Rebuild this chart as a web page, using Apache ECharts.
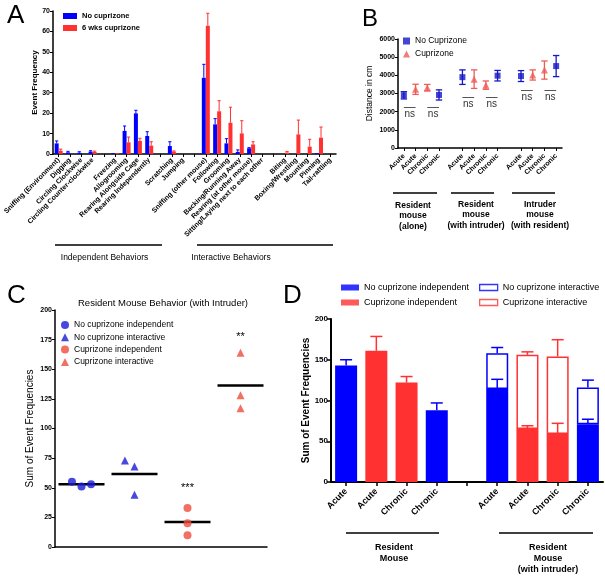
<!DOCTYPE html>
<html><head><meta charset="utf-8">
<script src="https://cdn.jsdelivr.net/npm/echarts@6/dist/echarts.min.js"></script>
<style>html,body{margin:0;padding:0;background:#fff}#c{width:605px;height:578px}</style>
</head><body><div id="c"></div>
<script>
// ---------- Panel A ----------
const catsA = ['Sniffing (Environment)','Digging','Circling Clockwise','Circling Counter-clockwise','','Freezing','Allogrooming','Rearing Alongside Cage','Rearing Independently','','Scratching','Jumping','','Sniffing (other mouse)','Following','Grooming','Backing/Running Away','Rearing (at other mouse)','Sitting/Laying next to each other','','Biting','Boxing/Wrestling','Mounting','Pinning','Tail-rattling'];
const noCupA    = [5.2,0.8,0.6,1.2,null,0.4,11.3,19.9,8.8,null,3.9,0,null,37.3,14.5,5.2,1.0,2.8,0,null,0,0,0,0.4,0];
const noCupSemA = [1.2,0.5,0.5,0.4,null,0,2.4,1.5,2.1,null,2.1,0,null,6.6,2.8,2.3,1.0,0.3,0,null,0,0,0,0,0];
const cupA      = [1.6,0,0,1.0,null,0.4,5.7,6.4,4.1,null,1.2,0,null,62.8,20.9,15.3,10.1,4.7,0,null,0.7,9.6,3.6,8.0,0];
const cupSemA   = [0.8,0,0,0.4,null,0,2.6,1.3,1.9,null,0.3,0,null,6.1,5.2,7.6,6.2,1.3,0,null,0.5,7.0,3.6,5.2,0];

// ---------- Panel B ----------
const catsB = ['Acute','Acute','Chronic','Chronic','','Acute','Acute','Chronic','Chronic','','Acute','Acute','Chronic','Chronic'];
const noCupB    = [2900,null,null,2920,null,3900,null,null,3980,null,3960,null,null,4510];
const noCupSemB = [200,null,null,280,null,400,null,null,290,null,300,null,null,580];
const cupB      = [null,3230,3320,null,null,null,3790,3460,null,null,null,4020,4290,null];
const cupSemB   = [null,280,180,null,null,null,510,230,null,null,null,280,500,null];
const nsB = [[0,1,2250],[2,3,2250],[5,6,2800],[7,8,2800],[10,11,3200],[12,13,3200]];

// ---------- Panel C ----------
const groupsC = ['No cuprizone independent','No cuprizone interactive','Cuprizone independent','Cuprizone interactive'];
const valuesC = [[55,51,53],[73,68,44],[33,20,10],[164,128,117]];
const jitterC = [[-0.18,0,0.18],[-0.18,0,0],[0,0,0],[0,0,0]];
const starsC  = [['',0],['',0],['***',50],['**',177]];

// ---------- Panel D ----------
const catsD = ['Acute','Acute','Chronic','Chronic','','Acute','Acute','Chronic','Chronic'];
const noCupIndD    = [143,null,null,88,null,114,null,null,71];
const noCupIndSemD = [7,null,null,9,null,12,null,null,6];
const cupIndD      = [null,161,122,null,null,null,65,59,null];
const cupIndSemD   = [null,17.6,7.4,null,null,null,4,13,null];
const noCupIntD    = [null,null,null,null,null,44,null,null,45];
const noCupIntSemD = [null,null,null,null,null,7,null,null,9];
const cupIntD      = [null,null,null,null,null,null,91,95,null];
const cupIntSemD   = [null,null,null,null,null,null,3.7,20.6,null];

// ---------- helpers ----------
const FF = 'Liberation Sans, Arial, sans-serif';
const BLUE = '#0000ff', RED = '#ff3131';
const BLUE_B = '#1616c8', RED_B = '#ee5c58';
const BLUE_C = '#1a1ad6', RED_C = '#ee4b3c';
const dash = a => a.map(v => v == null ? '-' : v);
function errData(vals, sems, base) {
  const out = [];
  vals.forEach((v, i) => {
    if (v != null && sems[i] != null) out.push([i, (base && base[i] != null ? base[i] : 0) + v, sems[i]]);
  });
  return out;
}
function errRender(offset, capHalf, color, both, lw) {
  return function (params, api) {
    const x = api.value(0), v = api.value(1), e = api.value(2);
    if (!(e > 0)) return null;
    const top = api.coord([x, v + e]);
    const bot = api.coord([x, both ? v - e : v]);
    const cx = top[0] + offset;
    const st = {stroke: color, lineWidth: lw};
    const ch = [
      {type: 'line', shape: {x1: cx, y1: bot[1], x2: cx, y2: top[1]}, style: st},
      {type: 'line', shape: {x1: cx - capHalf, y1: top[1], x2: cx + capHalf, y2: top[1]}, style: st}
    ];
    if (both) ch.push({type: 'line', shape: {x1: cx - capHalf, y1: bot[1], x2: cx + capHalf, y2: bot[1]}, style: st});
    return {type: 'group', children: ch};
  };
}
function errSeries(name, xi, data, render, z) {
  return {type: 'custom', name: name, xAxisIndex: xi, yAxisIndex: xi, data: data,
          encode: {x: 0, y: 1}, renderItem: render, z: z || 5, silent: true};
}
const axisLineK = w => ({show: true, lineStyle: {color: '#000', width: w}});
const lbl = (fs, bold) => ({color: '#000', fontSize: fs, fontWeight: bold ? 'bold' : 'normal', fontFamily: FF});

const scatterC = groupsC.map((g, gi) => ({
  type: 'scatter', name: g, xAxisIndex: 2, yAxisIndex: 2,
  symbol: gi % 2 === 0 ? 'circle' : 'triangle', symbolSize: 8,
  itemStyle: {color: gi < 2 ? BLUE_C : RED_C},
  data: valuesC[gi].map((v, k) => [gi + 0.5 + jitterC[gi][k], v]),
  markPoint: starsC[gi][0] ? {
    symbol: 'circle', symbolSize: 0, silent: true,
    label: {show: true, position: 'inside', formatter: starsC[gi][0], fontSize: 11, color: '#000', fontFamily: FF},
    data: [{coord: [gi + 0.5, starsC[gi][1]]}]
  } : undefined
}));
const meanC = valuesC.map((vals, gi) => [gi + 0.5, vals.reduce((a, b) => a + b, 0) / vals.length]);

const chart = echarts.init(document.getElementById('c'), null, {renderer: 'canvas'});
chart.setOption({
  animation: false,
  backgroundColor: '#fff',
  textStyle: {fontFamily: FF},
  grid: [
    {left: 53, top: 11, width: 283, height: 143, outerBoundsMode: 'none'},
    {left: 398, top: 39, width: 164, height: 109, outerBoundsMode: 'none'},
    {left: 55, top: 310, width: 212, height: 237, outerBoundsMode: 'none'},
    {left: 331, top: 319, width: 272, height: 163, outerBoundsMode: 'none'}
  ],
  xAxis: [
    {type: 'category', gridIndex: 0, data: catsA, axisLine: axisLineK(1.5),
     axisTick: {show: true, alignWithLabel: true, interval: 0, length: 3, lineStyle: {color: '#000'}},
     axisLabel: Object.assign(lbl(7, true), {rotate: 45, interval: 0, margin: 5})},
    {type: 'category', gridIndex: 1, data: catsB, axisLine: axisLineK(1.5),
     axisTick: {show: true, alignWithLabel: true, interval: (i, v) => v !== '', length: 3, lineStyle: {color: '#000'}},
     axisLabel: Object.assign(lbl(7, true), {rotate: 45, interval: 0, margin: 7})},
    {type: 'value', gridIndex: 2, min: 0, max: 4, axisLine: axisLineK(1.5),
     axisTick: {show: false}, axisLabel: {show: false}, splitLine: {show: false}},
    {type: 'category', gridIndex: 3, data: catsD, axisLine: axisLineK(2),
     axisTick: {show: true, alignWithLabel: true, interval: 0, length: 4, lineStyle: {color: '#000', width: 1.5}},
     axisLabel: Object.assign(lbl(9, true), {rotate: 45, interval: 0, margin: 8})}
  ],
  yAxis: [
    {type: 'value', gridIndex: 0, min: 0, max: 70, interval: 10, axisLine: axisLineK(1.5),
     axisTick: {show: true, length: 3, lineStyle: {color: '#000'}}, splitLine: {show: false},
     axisLabel: Object.assign(lbl(7, true), {margin: 3}),
     name: 'Event Frequency', nameLocation: 'middle', nameGap: 13, nameTextStyle: lbl(8, true)},
    {type: 'value', gridIndex: 1, min: 0, max: 6000, interval: 1000, axisLine: axisLineK(1.5),
     axisTick: {show: true, length: 3, lineStyle: {color: '#000'}}, splitLine: {show: false},
     axisLabel: Object.assign(lbl(7, true), {margin: 3, formatter: v => String(v)}),
     name: 'Distance in cm', nameLocation: 'middle', nameGap: 24, nameTextStyle: lbl(8.5, false)},
    {type: 'value', gridIndex: 2, min: 0, max: 200, interval: 25, axisLine: axisLineK(1.5),
     axisTick: {show: true, length: 3, lineStyle: {color: '#000'}}, splitLine: {show: false},
     axisLabel: Object.assign(lbl(7, true), {margin: 3}),
     name: 'Sum of Event Frequencies', nameLocation: 'middle', nameGap: 20, nameTextStyle: lbl(10, false)},
    {type: 'value', gridIndex: 3, min: 0, max: 200, interval: 50, axisLine: axisLineK(2),
     axisTick: {show: true, length: 4, lineStyle: {color: '#000', width: 1.5}}, splitLine: {show: false},
     axisLabel: Object.assign(lbl(8, true), {margin: 3}),
     name: 'Sum of Event Frequencies', nameLocation: 'middle', nameGap: 20, nameTextStyle: lbl(10, true)}
  ],
  legend: [
    {orient: 'vertical', left: 63, top: 11, padding: 0, itemGap: 2, itemWidth: 14, itemHeight: 6,
     selectedMode: false, icon: 'rect', textStyle: Object.assign(lbl(7.5, true), {lineHeight: 10}),
     data: ['No cuprizone', '6 wks cuprizone']},
    {orient: 'vertical', left: 403, top: 36, padding: 0, itemGap: 3, itemWidth: 7, itemHeight: 7,
     selectedMode: false, textStyle: Object.assign(lbl(8.5, false), {lineHeight: 10}),
     data: ['No Cuprizone', 'Cuprizone']},
    {orient: 'vertical', left: 61, top: 320, padding: 0, itemGap: 2.3, itemWidth: 8, itemHeight: 8,
     selectedMode: false, textStyle: Object.assign(lbl(8.5, false), {lineHeight: 10}),
     data: groupsC.map((g, gi) => ({name: g, icon: gi % 2 === 0 ? 'circle' : 'triangle',
       itemStyle: {color: gi < 2 ? BLUE_C : RED_C, borderWidth: 0}}))},
    {orient: 'vertical', left: 341, top: 282, padding: 0, itemGap: 4, itemWidth: 18, itemHeight: 6,
     selectedMode: false, textStyle: Object.assign(lbl(9, false), {lineHeight: 11}),
     data: [{name: 'No cuprizone independent', icon: 'rect', itemStyle: {color: BLUE, borderWidth: 0}},
            {name: 'Cuprizone independent', icon: 'rect', itemStyle: {color: RED, borderWidth: 0}}]},
    {orient: 'vertical', left: 479, top: 282, padding: 0, itemGap: 4, itemWidth: 18, itemHeight: 6,
     selectedMode: false, textStyle: Object.assign(lbl(9, false), {lineHeight: 11}),
     data: [{name: 'No cuprizone interactive', icon: 'rect', itemStyle: {color: '#fff', borderColor: BLUE, borderWidth: 1.3}},
            {name: 'Cuprizone interactive', icon: 'rect', itemStyle: {color: '#fff', borderColor: RED, borderWidth: 1.3}}]}
  ],
  series: [
    // Panel A
    {type: 'bar', name: 'No cuprizone', xAxisIndex: 0, yAxisIndex: 0, data: dash(noCupA),
     barWidth: 4, barGap: '0%', itemStyle: {color: BLUE}},
    {type: 'bar', name: '6 wks cuprizone', xAxisIndex: 0, yAxisIndex: 0, data: dash(cupA),
     barWidth: 4, barGap: '0%', itemStyle: {color: RED}},
    errSeries('errA1', 0, errData(noCupA, noCupSemA), errRender(-2, 1.6, BLUE, false, 1)),
    errSeries('errA2', 0, errData(cupA, cupSemA), errRender(2, 1.6, RED, false, 1)),
    // Panel B
    errSeries('errB1', 1, errData(noCupB, noCupSemB), errRender(0, 3.2, BLUE_B, true, 1.3), 2),
    errSeries('errB2', 1, errData(cupB, cupSemB), errRender(0, 3.2, RED_B, true, 1.3), 2),
    {type: 'scatter', name: 'No Cuprizone', xAxisIndex: 1, yAxisIndex: 1, data: dash(noCupB),
     symbol: 'rect', symbolSize: 6, itemStyle: {color: BLUE_B}, z: 4,
     markLine: {symbol: 'none', silent: true, lineStyle: {color: '#555', width: 1, type: 'solid'},
       label: {show: true, formatter: 'ns', position: 'insideMiddleBottom', distance: 2, fontSize: 10, color: '#333', fontFamily: FF},
       data: nsB.map(n => [{coord: [n[0], n[2]]}, {coord: [n[1], n[2]]}])}},
    {type: 'scatter', name: 'Cuprizone', xAxisIndex: 1, yAxisIndex: 1, data: dash(cupB),
     symbol: 'triangle', symbolSize: 7, itemStyle: {color: RED_B}, z: 4},
    // Panel C
    ...scatterC,
    {type: 'custom', name: 'meanC', xAxisIndex: 2, yAxisIndex: 2, data: meanC, encode: {x: 0, y: 1}, silent: true, z: 1,
     renderItem: (p, api) => {
       const c = api.coord([api.value(0), api.value(1)]);
       return {type: 'line', shape: {x1: c[0] - 23, y1: c[1], x2: c[0] + 23, y2: c[1]}, style: {stroke: '#000', lineWidth: 2.5}};
     }},
    // Panel D
    {type: 'bar', name: 'No cuprizone independent', xAxisIndex: 3, yAxisIndex: 3, stack: 'd', data: dash(noCupIndD),
     barWidth: 22, itemStyle: {color: BLUE}},
    {type: 'bar', name: 'Cuprizone independent', xAxisIndex: 3, yAxisIndex: 3, stack: 'd', data: dash(cupIndD),
     barWidth: 22, itemStyle: {color: RED}},
    {type: 'bar', name: 'No cuprizone interactive', xAxisIndex: 3, yAxisIndex: 3, stack: 'd', data: dash(noCupIntD),
     barWidth: 22, itemStyle: {color: '#fff', borderColor: BLUE, borderWidth: 1.5}},
    {type: 'bar', name: 'Cuprizone interactive', xAxisIndex: 3, yAxisIndex: 3, stack: 'd', data: dash(cupIntD),
     barWidth: 22, itemStyle: {color: '#fff', borderColor: RED, borderWidth: 1.5}},
    errSeries('errD1', 3, errData(noCupIndD, noCupIndSemD), errRender(0, 6, BLUE, false, 1.5)),
    errSeries('errD2', 3, errData(cupIndD, cupIndSemD), errRender(0, 6, RED, false, 1.5)),
    errSeries('errD3', 3, errData(noCupIntD, noCupIntSemD, noCupIndD), errRender(0, 6, BLUE, false, 1.5)),
    errSeries('errD4', 3, errData(cupIntD, cupIntSemD, cupIndD), errRender(0, 6, RED, false, 1.5))
  ],
  graphic: [
    {type: 'text', x: 7, y: 16, style: {text: 'A', font: '26px ' + FF, fill: '#000', verticalAlign: 'middle'}},
    {type: 'text', x: 362, y: 19, style: {text: 'B', font: '24px ' + FF, fill: '#000', verticalAlign: 'middle'}},
    {type: 'text', x: 7, y: 296, style: {text: 'C', font: '26px ' + FF, fill: '#000', verticalAlign: 'middle'}},
    {type: 'text', x: 283, y: 296, style: {text: 'D', font: '26px ' + FF, fill: '#000', verticalAlign: 'middle'}},
    // Panel A groups
    {type: 'line', shape: {x1: 55, y1: 245, x2: 162, y2: 245}, style: {stroke: '#000', lineWidth: 1.5}},
    {type: 'line', shape: {x1: 197, y1: 245, x2: 333, y2: 245}, style: {stroke: '#000', lineWidth: 1.5}},
    {type: 'text', x: 104.5, y: 258, style: {text: 'Independent Behaviors', font: '8.5px ' + FF, fill: '#000', align: 'center', verticalAlign: 'middle'}},
    {type: 'text', x: 231, y: 258, style: {text: 'Interactive Behaviors', font: '8.5px ' + FF, fill: '#000', align: 'center', verticalAlign: 'middle'}},
    // Panel B groups
    {type: 'line', shape: {x1: 393, y1: 193, x2: 437, y2: 193}, style: {stroke: '#000', lineWidth: 1.5}},
    {type: 'line', shape: {x1: 451, y1: 193, x2: 494, y2: 193}, style: {stroke: '#000', lineWidth: 1.5}},
    {type: 'line', shape: {x1: 512, y1: 193, x2: 555, y2: 193}, style: {stroke: '#000', lineWidth: 1.5}},
    {type: 'text', x: 413, y: 200, style: {text: 'Resident\nmouse\n(alone)', font: 'bold 8.5px ' + FF, lineHeight: 10.5, fill: '#000', align: 'center', verticalAlign: 'top'}},
    {type: 'text', x: 476, y: 199, style: {text: 'Resident\nmouse\n(with intruder)', font: 'bold 8.5px ' + FF, lineHeight: 10.5, fill: '#000', align: 'center', verticalAlign: 'top'}},
    {type: 'text', x: 540, y: 199, style: {text: 'Intruder\nmouse\n(with resident)', font: 'bold 8.5px ' + FF, lineHeight: 10.5, fill: '#000', align: 'center', verticalAlign: 'top'}},
    // Panel C title
    {type: 'text', x: 163, y: 303, style: {text: 'Resident Mouse Behavior (with Intruder)', font: '9.5px ' + FF, fill: '#000', align: 'center', verticalAlign: 'middle'}},
    // Panel D groups
    {type: 'line', shape: {x1: 346, y1: 533, x2: 439, y2: 533}, style: {stroke: '#000', lineWidth: 1.5}},
    {type: 'line', shape: {x1: 499, y1: 533, x2: 593, y2: 533}, style: {stroke: '#000', lineWidth: 1.5}},
    {type: 'text', x: 394, y: 542, style: {text: 'Resident\nMouse', font: 'bold 9px ' + FF, lineHeight: 11, fill: '#000', align: 'center', verticalAlign: 'top'}},
    {type: 'text', x: 548, y: 542, style: {text: 'Resident\nMouse\n(with intruder)', font: 'bold 9px ' + FF, lineHeight: 11, fill: '#000', align: 'center', verticalAlign: 'top'}}
  ]
});
</script></body></html>
